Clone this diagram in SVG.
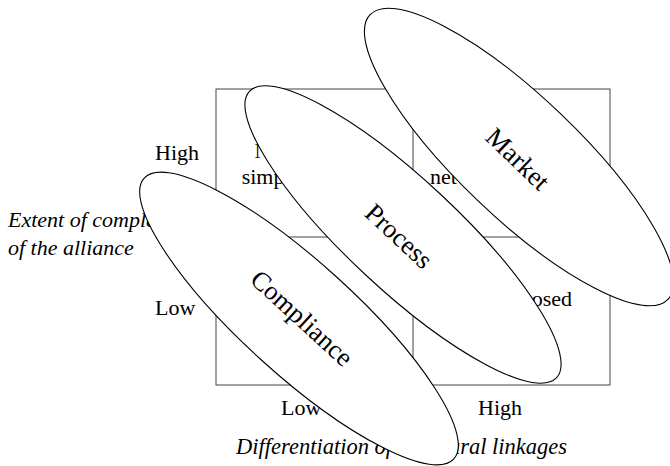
<svg xmlns="http://www.w3.org/2000/svg" width="670" height="466" viewBox="0 0 670 466">
<style>
text{font-family:"Liberation Serif","Times New Roman",serif;font-size:22px;fill:#000}
.it{font-style:italic}
.lab{font-size:26.5px;text-anchor:middle}
.ell{fill:#fff;stroke:#000;stroke-width:1.1}
.grid{fill:none;stroke:#444;stroke-width:1}
</style>
<rect width="670" height="466" fill="#fff"/>
<g id="axes">
<text x="155" y="160">High</text>
<text x="155" y="315">Low</text>
<text class="it" x="8" y="227">Extent of complexity</text>
<text class="it" x="8" y="255">of the alliance</text>
<text x="281" y="415">Low</text>
<text x="478" y="415">High</text>
<text class="it" x="236" y="454" style="font-size:22.5px">Differentiation of structural linkages</text>
</g>
<g id="quadrants">
<text x="271" y="158" text-anchor="middle">Not</text>
<text x="271" y="184" text-anchor="middle">simple</text>
<text x="430" y="184">network</text>
<text x="572" y="306" text-anchor="end">Imposed</text>
</g>
<g id="matrix">
<rect class="grid" x="216" y="89" width="394" height="296"/>
<line class="grid" x1="413" y1="89" x2="413" y2="385"/>
<line class="grid" x1="216" y1="237" x2="610" y2="237"/>
</g>
<g id="compliance">
<ellipse class="ell" cx="299" cy="318.5" rx="209" ry="56" transform="rotate(42.2 299 318.5)"/>
<text class="lab" x="302" y="327" transform="rotate(42.5 302 318)">Compliance</text>
</g>
<g id="process">
<ellipse class="ell" cx="403" cy="234.5" rx="210" ry="55" transform="rotate(43 403 234.5)"/>
<text class="lab" x="399" y="245" transform="rotate(43 399 236)">Process</text>
</g>
<g id="market">
<ellipse class="ell" cx="519" cy="157" rx="206" ry="60" transform="rotate(43.7 519 157)"/>
<text class="lab" x="518" y="168" transform="rotate(43.7 518 159)">Market</text>
</g>
</svg>
